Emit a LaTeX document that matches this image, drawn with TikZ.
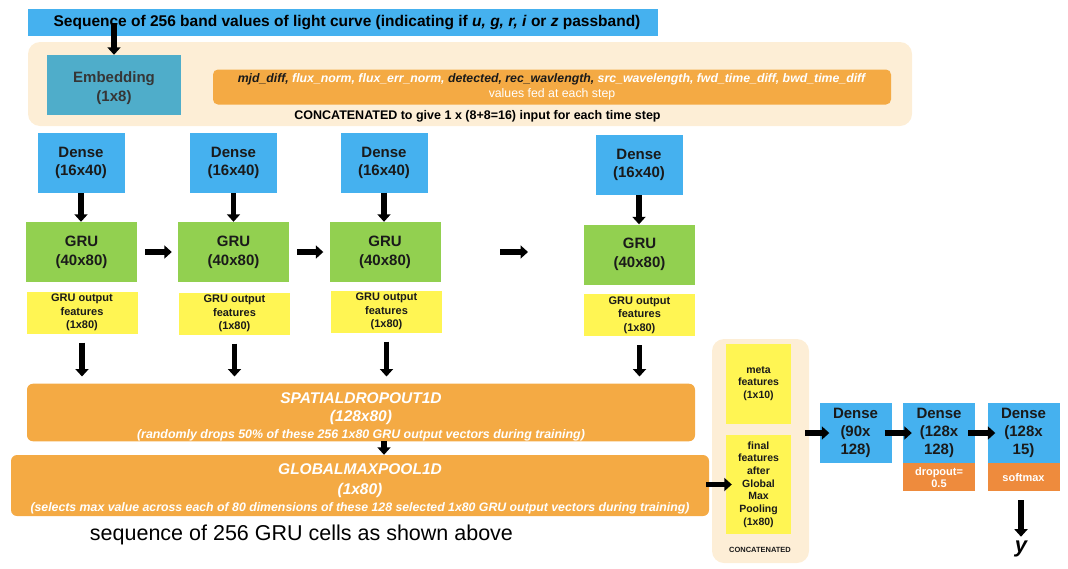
\documentclass[tikz,border=0pt]{standalone}
\usepackage{fontspec}
\setmainfont{Liberation Sans}
\usetikzlibrary{arrows.meta}
\definecolor{skyb}{HTML}{45B1EF}
\definecolor{embb}{HTML}{4FADCA}
\definecolor{grn}{HTML}{92D050}
\definecolor{yel}{HTML}{FFF553}
\definecolor{orng}{HTML}{F4AA44}
\definecolor{dorng}{HTML}{EE8B3D}
\definecolor{beige}{HTML}{FDEED6}
\definecolor{ink}{HTML}{1A1A1A}
\definecolor{embtxt}{HTML}{363636}
\begin{document}
\begin{tikzpicture}[x=1pt,y=-1pt,
  box/.style={inner sep=0pt, align=center, anchor=center, text=ink},
  densebox/.style={box, fill=skyb, minimum width=87pt, minimum height=60pt, font=\fontsize{15}{18}\selectfont\bfseries},
  grubox/.style={box, fill=grn, minimum width=111pt, minimum height=60pt, font=\fontsize{15}{19}\selectfont\bfseries},
  yelbox/.style={box, fill=yel, minimum width=111pt, minimum height=42pt, font=\fontsize{11}{13.5}\selectfont\bfseries},
  smalldense/.style={box, fill=skyb, minimum width=72pt, minimum height=60pt, font=\fontsize{15}{18}\selectfont\bfseries},
  subbox/.style={box, fill=dorng, minimum width=72pt, minimum height=28pt, text=white, font=\fontsize{11}{12}\selectfont\bfseries},
  orngbar/.style={box, fill=orng, rounded corners=6pt, text=white},
  arr/.style={line width=5.5pt, -{Triangle[length=7.5pt,width=13pt]}},
]
\useasboundingbox (0,0) rectangle (1068,568);

% background panels
\node[box, fill=beige, rounded corners=12pt, minimum width=884pt, minimum height=84pt] (panel) at (470,84) {};
\node[box, fill=beige, rounded corners=12pt, minimum width=97pt, minimum height=224pt] (cpanel) at (760.5,451) {};

% top bar
\node[box, fill=skyb, minimum width=630pt, minimum height=27pt, text=black, font=\fontsize{15.5}{17}\selectfont\bfseries] (top) at (343,22.5)
  {\hspace*{8pt}Sequence of 256 band values of light curve (indicating if \textit{u, g, r, i} or \textit{z} passband)};

% embedding
\node[box, fill=embb, minimum width=134pt, minimum height=60pt, text=embtxt, font=\fontsize{15}{19}\selectfont\bfseries] (emb) at (114,85) {\rule{0pt}{17pt}Embedding\\(1x8)};

% feature bar
\node[orngbar, rounded corners=5pt, minimum width=678pt, minimum height=35pt, font=\fontsize{12.3}{15}\selectfont] (feat) at (552,87)
  {\textbf{\textit{{\color{ink}mjd\_diff,} flux\_norm, flux\_err\_norm, {\color{ink}detected, rec\_wavlength,} src\_wavelength, fwd\_time\_diff, bwd\_time\_diff}}\\values fed at each step};
\node[box, text=black, font=\fontsize{12.5}{14}\selectfont\bfseries] (cat) at (477.5,116) {CONCATENATED to give 1 x (8+8=16) input for each time step};

% dense and GRU columns
\node[densebox] (d1) at (81,163) {Dense\\(16x40)};
\node[densebox] (d2) at (233.5,163) {Dense\\(16x40)};
\node[densebox] (d3) at (384,162.5) {Dense\\(16x40)};
\node[densebox] (d4) at (639,165) {Dense\\(16x40)};

\node[grubox] (g1) at (81.5,252) {GRU\\(40x80)};
\node[grubox] (g2) at (233.5,252) {GRU\\(40x80)};
\node[grubox] (g3) at (385,252) {GRU\\(40x80)};
\node[grubox] (g4) at (639.5,254.5) {GRU\\(40x80)};

\node[yelbox] (y1) at (82,312.5) {GRU output\\features\\(1x80)};
\node[yelbox] (y2) at (234.5,313.5) {GRU output\\features\\(1x80)};
\node[yelbox] (y3) at (386.5,311.5) {GRU output\\features\\(1x80)};
\node[yelbox] (y4) at (639.5,315) {GRU output\\features\\(1x80)};

% dropout and pooling
\node[orngbar, minimum width=668pt, minimum height=55pt, font=\fontsize{15.5}{18}\selectfont\bfseries\itshape] (drop) at (361,412.5)
  {\rule{0pt}{20pt}SPATIALDROPOUT1D\\(128x80)\\[-1pt]
   {\fontsize{12.4}{14}\selectfont (randomly drops 50\% of these 256 1x80 GRU output vectors during training)}};
\node[orngbar, minimum width=698pt, minimum height=61pt, font=\fontsize{15.5}{20}\selectfont\bfseries\itshape] (gmp) at (360,485.5)
  {\rule{0pt}{17pt}GLOBALMAXPOOL1D\\(1x80)\\[-3pt]
   {\fontsize{12.3}{14}\selectfont (selects max value across each of 80 dimensions of these 128 selected 1x80 GRU output vectors during training)}};
\node[box, text=black, font=\fontsize{21.5}{24}\selectfont] (seq) at (301.5,535) {sequence of 256 GRU cells as shown above};

% concatenated features
\node[box, fill=yel, minimum width=65pt, minimum height=80pt, font=\fontsize{10.5}{12.7}\selectfont\bfseries] (meta) at (758.5,383.5) {meta\\features\\(1x10)};
\node[box, fill=yel, minimum width=65pt, minimum height=99pt, font=\fontsize{10.5}{12.7}\selectfont\bfseries] (fin) at (758.5,484.5) {final\\features\\after\\Global\\Max\\Pooling\\(1x80)};
\node[box, font=\fontsize{7.5}{9}\selectfont\bfseries] (cat2) at (760,550) {CONCATENATED};

% final dense layers
\node[smalldense] (e1) at (855.5,433) {Dense\\(90x\\128)};
\node[smalldense] (e2) at (939,433) {Dense\\(128x\\128)};
\node[subbox, anchor=north] (s2) at (e2.south) {dropout=\\0.5};
\node[smalldense] (e3) at (1023.5,433) {Dense\\(128x\\15)};
\node[subbox, anchor=north] (s3) at (e3.south) {softmax};
\node[box, text=black, font=\fontsize{22}{24}\selectfont\bfseries\itshape] (yout) at (1021,549) {y};

% free arrow coordinates
\coordinate (fa) at (500,252);
\coordinate (fb) at (528,252);
\coordinate (ya) at (1021,500);

% arrows
\draw[arr] ([yshift=13pt]top.south -| emb.north) -- (emb.north);
\foreach \i in {1,2,3,4}{
  \draw[arr] (d\i.south) -- (d\i.south |- g\i.north);
  \draw[arr, shorten <=9pt, shorten >=7pt] (y\i.south) -- (y\i.south |- drop.north);
}
\draw[arr, shorten <=8pt, shorten >=6pt] (g1.east) -- (g2.west);
\draw[arr, shorten <=8pt, shorten >=6pt] (g2.east) -- (g3.west);
\draw[arr] (fa) -- (fb);
\draw[arr] (drop.south -| d3.south) -- (gmp.north -| d3.south);
\draw[arr, shorten <=-3pt, shorten >=-6pt] (gmp.east |- fin.west) -- (fin.west);
\draw[arr, shorten <=-4pt, shorten >=-10pt] (cpanel.east |- e1.west) -- (e1.west);
\draw[arr, shorten <=-7pt, shorten >=-9pt] (e1.east) -- (e2.west);
\draw[arr, shorten <=-7pt, shorten >=-8pt] (e2.east) -- (e3.west);
\draw[arr, shorten >=4pt] (ya) -- (ya |- yout.north);
\end{tikzpicture}
\end{document}
